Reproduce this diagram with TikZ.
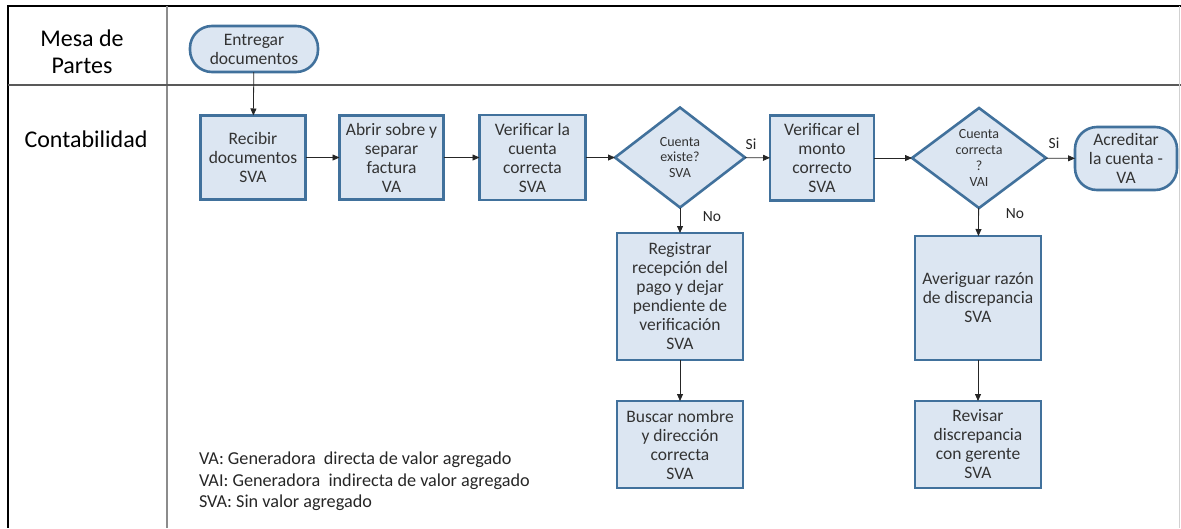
\documentclass[tikz,border=0pt]{standalone}
\usepackage{fontspec}
\setmainfont{Carlito}
\usetikzlibrary{shapes.geometric,arrows.meta}
\definecolor{boxfill}{HTML}{DCE6F2}
\definecolor{boxline}{HTML}{41719C}
\tikzset{
  every node/.style={inner sep=0pt, outer sep=0pt, align=center},
  procbox/.style={draw=boxline, line width=2.6pt, fill=boxfill, rectangle,
    font=\fontsize{17.5}{19}\selectfont, text=black!80},
  termbox/.style={procbox, rounded corners=22pt},
  decbox/.style={draw=boxline, line width=2.6pt, fill=boxfill, diamond,
    font=\fontsize{14}{16}\selectfont, text=black!80},
  flow/.style={-{Triangle[length=7pt,width=6pt]}, line width=0.8pt, black!85},
  lanelabel/.style={font=\fontsize{24}{27}\selectfont, text=black},
  branch/.style={font=\fontsize{15.5}{17}\selectfont, text=black!85},
  legendtext/.style={font=\fontsize{18.2}{21.5}\selectfont, text=black!85, align=left, anchor=north west}
}
\begin{document}
\begin{tikzpicture}[x=1pt,y=-1pt]
\useasboundingbox (0,0) rectangle (1181,528);
% swimlane frame
\draw[line width=2pt, black] (7,6) -- (1181,6);
\draw[line width=2pt, black] (8,6) -- (8,528);
\draw[line width=1.4pt, black!45] (167,6) -- (167,528);
\draw[line width=2.4pt, black!65] (8,85) -- (1181,85);
\draw[line width=0.8pt, black!18] (1179.5,6) -- (1179.5,528);
\node[lanelabel] (lane1) at (82,51.5) {Mesa de\\Partes};
\node[lanelabel] (lane2) at (86,139.5) {Contabilidad};

% process shapes
\node[termbox, minimum width=128pt, minimum height=46pt] (entregar) at (254,49) {Entregar\\documentos};
\node[procbox, minimum width=105pt, minimum height=84pt] (recibir) at (253,157.5) {Recibir\\documentos\\SVA};
\node[procbox, minimum width=104pt, minimum height=84pt] (abrir) at (391.5,157.5) {Abrir sobre y\\separar\\factura\\VA};
\node[procbox, minimum width=106pt, minimum height=85pt] (vercuenta) at (532.5,157.5) {Verificar la\\cuenta\\correcta\\SVA};
\node[decbox, minimum width=130pt, minimum height=100pt, aspect=1.3] (existe) at (680,157.5) {Cuenta\\existe?\\SVA};
\node[procbox, minimum width=104pt, minimum height=85pt] (monto) at (822,158) {Verificar el\\monto\\correcto\\SVA};
\node[decbox, minimum width=134pt, minimum height=100pt, aspect=1.34] (correcta) at (979,158) {Cuenta\\correcta\\?\\VAI};
\node[termbox, minimum width=102pt, minimum height=63pt] (acreditar) at (1126,158.5) {Acreditar\\la cuenta -\\VA};
\node[procbox, minimum width=126pt, minimum height=127pt] (registrar) at (680,296.5) {Registrar\\recepción del\\pago y dejar\\pendiente de\\verificación\\SVA};
\node[procbox, minimum width=126pt, minimum height=87pt] (buscar) at (680,444.5) {Buscar nombre\\y dirección\\correcta\\SVA};
\node[procbox, minimum width=126pt, minimum height=124pt] (averiguar) at (978,298) {Averiguar razón\\de discrepancia\\SVA};
\node[procbox, minimum width=126pt, minimum height=87pt] (revisar) at (978,444.5) {Revisar\\discrepancia\\con gerente\\SVA};

% connectors
\draw[flow] (entregar) -- (recibir);
\draw[flow] (recibir) -- (abrir);
\draw[flow] (abrir) -- (vercuenta);
\draw[flow] (vercuenta) -- (existe);
\draw[flow] (existe) -- (monto);
\draw[flow] (existe) -- (registrar);
\draw[flow] (registrar) -- (buscar);
\draw[flow] (monto) -- (correcta);
\draw[flow] (correcta) -- (acreditar);
\draw[flow] (correcta) -- (averiguar);
\draw[flow] (averiguar) -- (revisar);

% branch labels
\node[branch] (si1) at (751,144) {Si};
\node[branch] (no1) at (712,217) {No};
\node[branch] (si2) at (1054,143) {Si};
\node[branch] (no2) at (1015,214) {No};

% legend
\node[legendtext] (legend) at (199,452) {VA: Generadora~ directa de valor agregado\\VAI: Generadora~ indirecta de valor agregado\\SVA: Sin valor agregado};
\end{tikzpicture}
\end{document}
